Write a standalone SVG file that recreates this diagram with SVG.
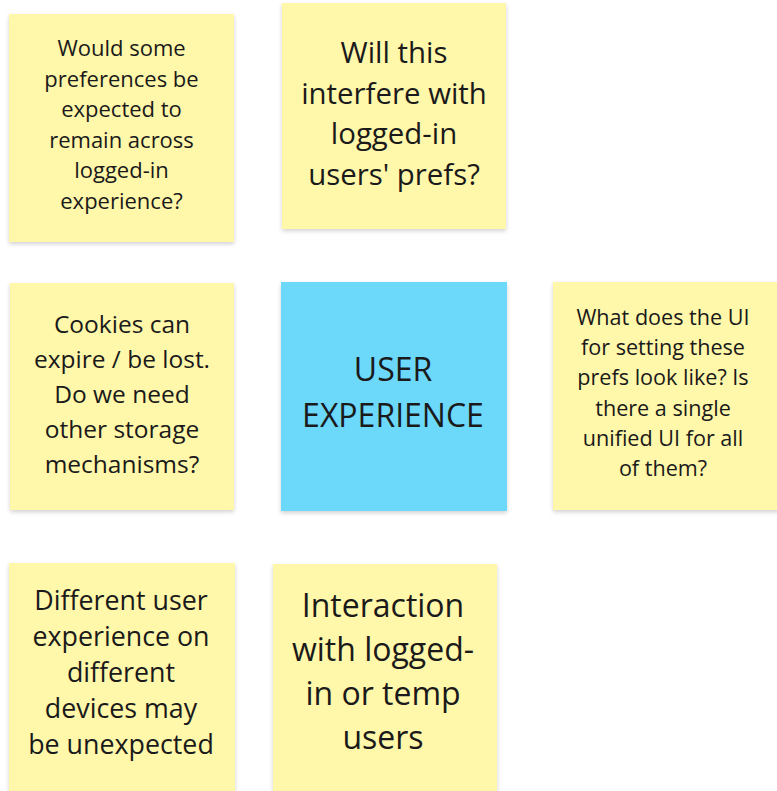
<svg xmlns="http://www.w3.org/2000/svg" width="777" height="791" viewBox="0 0 777 791">
<defs>
<filter id="sh" x="-10%" y="-10%" width="120%" height="125%">
<feDropShadow dx="0" dy="2" stdDeviation="2" flood-color="#000" flood-opacity="0.18"/>
</filter>
</defs>
<style>
.y{fill:#fff7aa;filter:url(#sh)}
.b{fill:#6cd8fa;filter:url(#sh)}
text{font-family:"Open Sans","Noto Sans","Liberation Sans",sans-serif;fill:#1a1a1a;text-anchor:middle}
</style>
<rect width="777" height="791" fill="#fff"/>
<g id="note-prefs-remain">
<rect class="y" x="9" y="14" width="225" height="228"/>
<text font-size="22"><tspan x="121.5" y="56">Would some</tspan><tspan x="121.5" y="86.6">preferences be</tspan><tspan x="121.5" y="117.2">expected to</tspan><tspan x="121.5" y="147.8">remain across</tspan><tspan x="121.5" y="178.4">logged-in</tspan><tspan x="121.5" y="209">experience?</tspan></text>
</g>
<g id="note-interfere">
<rect class="y" x="282" y="3" width="224" height="226"/>
<text font-size="29.4"><tspan x="394" y="63">Will this</tspan><tspan x="394" y="103.5">interfere with</tspan><tspan x="394" y="144">logged-in</tspan><tspan x="394" y="184.5">users' prefs?</tspan></text>
</g>
<g id="note-cookies">
<rect class="y" x="10" y="283" width="224" height="227"/>
<text font-size="24.5"><tspan x="122" y="333">Cookies can</tspan><tspan x="122" y="368">expire / be lost.</tspan><tspan x="122" y="403">Do we need</tspan><tspan x="122" y="438">other storage</tspan><tspan x="122" y="473">mechanisms?</tspan></text>
</g>
<g id="note-center">
<rect class="b" x="281" y="282" width="226" height="229"/>
<text font-size="32"><tspan x="393" y="381">USER</tspan><tspan x="393" y="427">EXPERIENCE</tspan></text>
</g>
<g id="note-ui">
<rect class="y" x="553" y="282" width="240" height="228"/>
<text font-size="21.6"><tspan x="663" y="325">What does the UI</tspan><tspan x="663" y="355.2">for setting these</tspan><tspan x="663" y="385.4">prefs look like? Is</tspan><tspan x="663" y="415.6">there a single</tspan><tspan x="663" y="445.8">unified UI for all</tspan><tspan x="663" y="476">of them?</tspan></text>
</g>
<g id="note-devices">
<rect class="y" x="9" y="563" width="226" height="240"/>
<text font-size="26.8"><tspan x="121" y="610">Different user</tspan><tspan x="121" y="646">experience on</tspan><tspan x="121" y="682">different</tspan><tspan x="121" y="718">devices may</tspan><tspan x="121" y="754">be unexpected</tspan></text>
</g>
<g id="note-interaction">
<rect class="y" x="273" y="564" width="224" height="240"/>
<text font-size="32"><tspan x="383" y="617">Interaction</tspan><tspan x="383" y="661">with logged-</tspan><tspan x="383" y="705">in or temp</tspan><tspan x="383" y="749">users</tspan></text>
</g>
<g id="connectors"/>
</svg>
